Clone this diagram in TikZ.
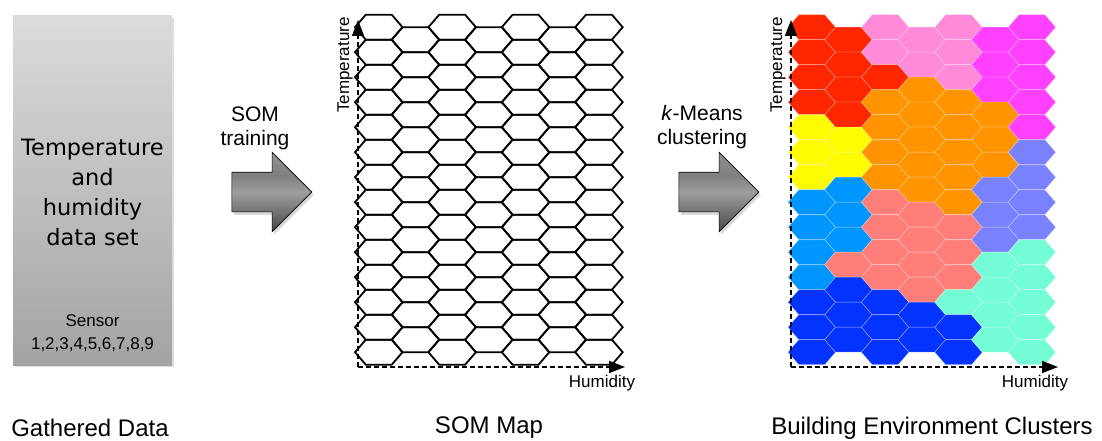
\documentclass[tikz,border=0pt]{standalone}
\usepackage{fontspec}
\setmainfont{Liberation Sans}
\newfontfamily\boxfont{DejaVu Sans}
\usetikzlibrary{arrows.meta,shapes.arrows,shadows}

\definecolor{mapR}{HTML}{FF2600}
\definecolor{mapP}{HTML}{FF8AD8}
\definecolor{mapM}{HTML}{FF40FF}
\definecolor{mapO}{HTML}{FF9300}
\definecolor{mapY}{HTML}{FFFB00}
\definecolor{mapB}{HTML}{0096FF}
\definecolor{mapS}{HTML}{FF7E79}
\definecolor{mapL}{HTML}{7A81FF}
\definecolor{mapA}{HTML}{73FCD6}
\definecolor{mapD}{HTML}{0433FF}

\pgfdeclareverticalshading{arrowgray}{100bp}{color(0bp)=(black!90); color(25bp)=(black!72); color(50bp)=(black!38); color(60bp)=(black!50); color(100bp)=(black!32)}

\begin{document}
\begin{tikzpicture}[x=1pt, y=-1pt,
hex/.style={draw=black, line width=1.8pt},
cell/.style={draw=white, draw opacity=0.35, line width=0.6pt},
axis/.style={dash pattern=on 5pt off 3pt, line width=1.5pt, -{Triangle[length=16pt,width=12pt]}},
axislabel/.style={font=\fontsize{17}{20}\selectfont},
steplabel/.style={font=\fontsize{21}{24}\selectfont, align=center},
caption/.style={font=\fontsize{24}{28}\selectfont},
bigarrow/.style={single arrow, draw=black, line width=0.6pt, shading=arrowgray,
    minimum height=80pt, single arrow head extend=20pt, inner xsep=0pt, inner ysep=19.5pt,
    drop shadow={shadow xshift=2pt, shadow yshift=-3pt, opacity=0.3}},
databox/.style={minimum width=159pt, minimum height=349pt, inner sep=0pt,
    top color=black!14, bottom color=black!36,
    drop shadow={shadow xshift=2pt, shadow yshift=-2pt, opacity=0.25}},
]
\useasboundingbox (0,0) rectangle (1102,441);

% gathered data
\node[databox] (data) at (92.5,190.5) {};
\node[font=\boxfont\fontsize{22.5}{29.7}\selectfont, align=center] (datatext) at (92.5,192.5)
    {Temperature\\and\\humidity\\data set};
\node[font=\fontsize{17}{23}\selectfont, align=center] (sensors) at (92.5,333.5)
    {Sensor\\1,2,3,4,5,6,7,8,9};
\node[caption] (datacap) at (90,428) {Gathered Data};

\node[bigarrow] (train) at (262,192) {};
\node[steplabel] (trainlabel) at (255,128) {SOM\\training};

% SOM map
\foreach \c in {1,...,7}{
  \pgfmathsetmacro\dy{mod(\c,2)==1 ? 0 : 12.5}
  \pgfmathtruncatemacro\rows{mod(\c,2)==1 ? 14 : 13}
  \foreach \r in {1,...,\rows}
    \draw[hex] ({355+36.7*(\c-1)},{27.2+\dy+25*(\r-1)}) -- ++(10.8,-12.5) -- ++(25.9,0)
      -- ++(10.8,12.5) -- ++(-10.8,12.5) -- ++(-25.9,0) -- cycle;
}
\coordinate (somO) at (358,367);
\coordinate (somT) at (358,20);
\coordinate (somH) at (625,367);
\draw[axis] (somO) -- (somT);
\draw[axis] (somO) -- (somH);
\node[axislabel, rotate=90] (somtemp) at (345,65) {Temperature};
\node[axislabel] (somhum) at (602,383) {Humidity};
\node[caption] (somcap) at (489,428) {SOM Map};

\node[bigarrow] (cluster) at (709,192) {};
\node[steplabel] (clusterlabel) at (702,127.5) {\textit{k}-Means\\clustering};

% clustered map
\begin{scope}[xshift=433pt]
\foreach \c/\cells in {1/{R,R,R,R,Y,Y,Y,B,B,B,B,D,D,D},
                       2/{R,R,R,R,Y,Y,B,B,B,S,D,D,D},
                       3/{P,P,R,O,O,O,O,S,S,S,S,D,D,D},
                       4/{P,P,O,O,O,O,O,S,S,S,S,D,D},
                       5/{P,P,P,O,O,O,O,O,S,S,S,A,D,D},
                       6/{M,M,M,O,O,O,L,L,L,A,A,A,A},
                       7/{M,M,M,M,M,L,L,L,L,A,A,A,A,A}}{
  \pgfmathsetmacro\dy{mod(\c,2)==1 ? 0 : 12.5}
  \foreach \k [count=\r] in \cells
    \filldraw[cell, fill=map\k] ({355+36.7*(\c-1)},{27.2+\dy+25*(\r-1)}) -- ++(10.8,-12.5)
      -- ++(25.9,0) -- ++(10.8,12.5) -- ++(-10.8,12.5) -- ++(-25.9,0) -- cycle;
}
\coordinate (kmO) at (358,367);
\coordinate (kmT) at (358,20);
\coordinate (kmH) at (625,367);
\draw[axis] (kmO) -- (kmT);
\draw[axis] (kmO) -- (kmH);
\node[axislabel, rotate=90] (kmtemp) at (345,65) {Temperature};
\node[axislabel] (kmhum) at (602,383) {Humidity};
\end{scope}
\node[caption] (kmcap) at (932,428) {Building Environment Clusters};
\end{tikzpicture}
\end{document}
